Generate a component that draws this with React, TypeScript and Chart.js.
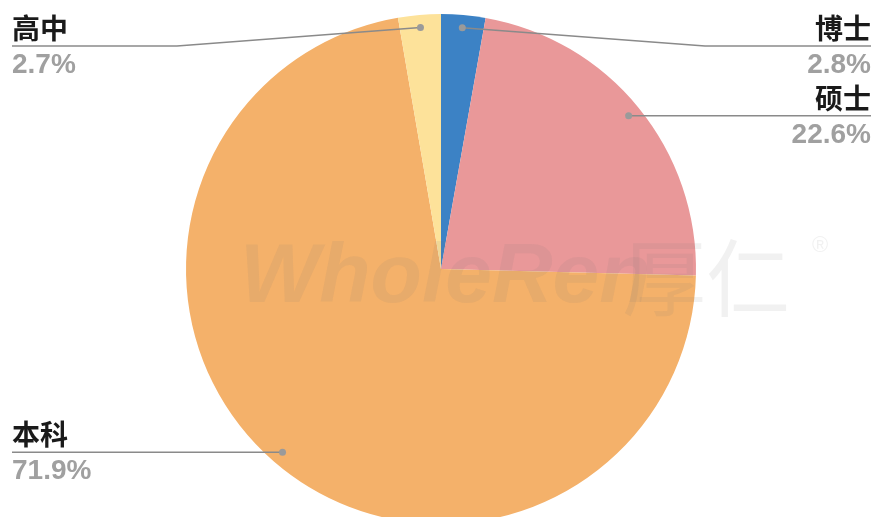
import React, { useEffect, useRef } from "react";
import { Chart, registerables } from "chart.js";

Chart.register(...registerables);

const categories = ["博士", "硕士", "本科", "高中"];
const shares = [2.8, 22.6, 71.9, 2.7];
const sliceColors = ["#3C82C5", "#E99899", "#F4B16A", "#FDE29A"];

const W = 874;
const H = 538;

const labelPlugin = {
  id: "leaderLabels",
  afterDatasetsDraw(chart: any) {
    const ctx = chart.ctx as CanvasRenderingContext2D;
    const meta = chart.getDatasetMeta(0);
    const area = chart.chartArea;

    // faint watermark
    ctx.save();
    ctx.fillStyle = "rgba(120,120,120,0.10)";
    ctx.textBaseline = "alphabetic";
    ctx.font = "italic bold 84px 'Liberation Sans', Arial, sans-serif";
    ctx.textAlign = "left";
    ctx.fillText("WholeRen", 240, 302);
    ctx.font = "84px 'Noto Sans CJK SC', sans-serif";
    ctx.fillText("厚仁", 622, 310);
    ctx.font = "22px 'Liberation Sans', Arial, sans-serif";
    ctx.fillText("®", 812, 252);
    ctx.restore();

    meta.data.forEach((arc: any, i: number) => {
      const p = arc.getProps(["x", "y", "startAngle", "endAngle", "outerRadius"], true);
      const mid = (p.startAngle + p.endAngle) / 2;
      const R = p.outerRadius;
      const dx = p.x + Math.cos(mid) * R * 0.95;
      const dy = p.y + Math.sin(mid) * R * 0.95;
      const right = Math.cos(mid) >= 0;
      const lineY = Math.max(dy, area.top + 32);
      const elbowX = lineY !== dy ? p.x + (right ? 1 : -1) * (R + 9) : dx;
      const endX = right ? W - 3 : 12;

      ctx.save();
      ctx.strokeStyle = "#8a8a8a";
      ctx.lineWidth = 1.5;
      ctx.beginPath();
      ctx.moveTo(dx, dy);
      ctx.lineTo(elbowX, lineY);
      ctx.lineTo(endX, lineY);
      ctx.stroke();

      ctx.fillStyle = "#9a9a9a";
      ctx.beginPath();
      ctx.arc(dx, dy, 3.5, 0, Math.PI * 2);
      ctx.fill();

      ctx.textAlign = right ? "right" : "left";
      ctx.textBaseline = "alphabetic";
      ctx.fillStyle = "#1a1a1a";
      ctx.font = "bold 28px 'Noto Sans CJK SC', sans-serif";
      ctx.fillText(categories[i], endX, lineY - 7);

      ctx.fillStyle = "#a0a0a0";
      ctx.font = "bold 28px 'Liberation Sans', Arial, sans-serif";
      ctx.fillText(shares[i].toFixed(1) + "%", endX, lineY + 27);
      ctx.restore();
    });
  },
};

export default function App() {
  const ref = useRef<HTMLCanvasElement | null>(null);

  useEffect(() => {
    if (!ref.current) return;
    const chart = new Chart(ref.current, {
      type: "pie",
      data: {
        labels: categories,
        datasets: [
          {
            data: shares,
            backgroundColor: sliceColors,
            borderWidth: 0,
          },
        ],
      },
      options: {
        responsive: false,
        animation: false,
        events: [],
        layout: { padding: { left: 8, right: 0, top: 14, bottom: 14 } },
        plugins: {
          legend: { display: false },
          tooltip: { enabled: false },
        },
      },
      plugins: [labelPlugin],
    });
    return () => chart.destroy();
  }, []);

  return (
    <div
      style={{
        position: "absolute",
        left: 0,
        top: 0,
        width: W,
        height: 517,
        overflow: "hidden",
        background: "#fff",
      }}
    >
      <canvas ref={ref} width={W} height={H} style={{ width: W, height: H, display: "block" }} />
    </div>
  );
}
